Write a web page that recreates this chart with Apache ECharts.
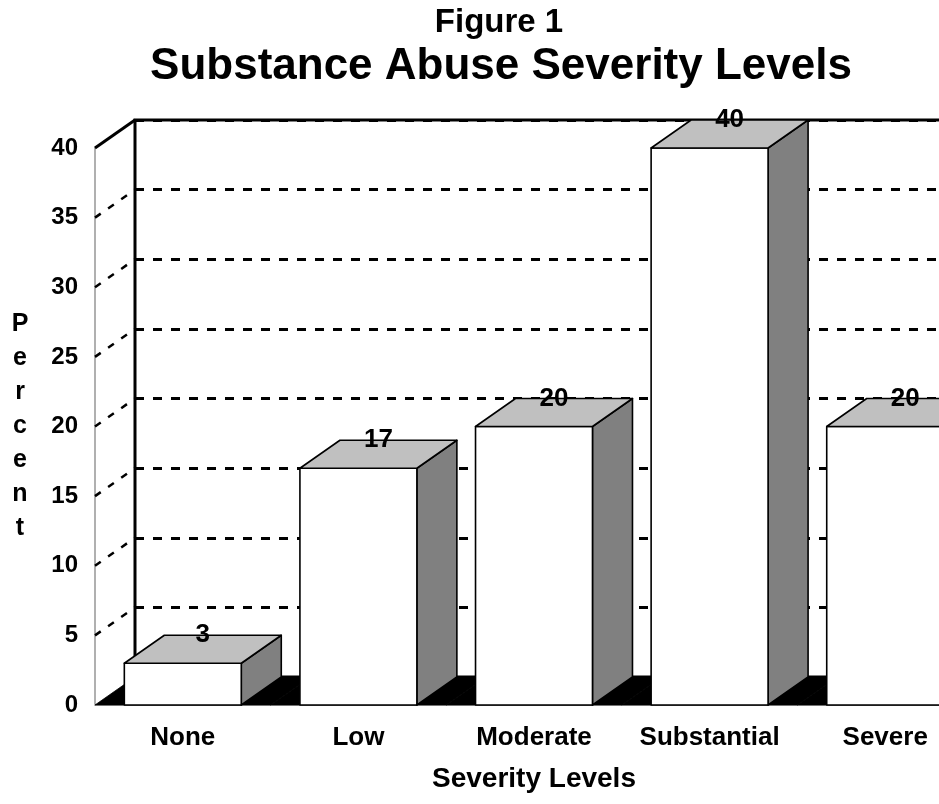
<!DOCTYPE html>
<html>
<head>
<meta charset="utf-8">
<script src="https://cdn.jsdelivr.net/npm/echarts@6/dist/echarts.min.js"></script>
<style>
html,body{margin:0;padding:0;background:#fff;}
#chart{width:939px;height:804px;}
</style>
</head>
<body>
<div id="chart"></div>
<script>
// ---- data ----
const categories = ['None', 'Low', 'Moderate', 'Substantial', 'Severe'];
const percents = [3, 17, 20, 40, 20];
const yTicks = [5, 10, 15, 20, 25, 30, 35, 40];
const yMin = 0, yMax = 40, yStep = 5;
const titleMain = 'Substance Abuse Severity Levels';
const titleTop = 'Figure 1';
const xTitle = 'Severity Levels';
const yTitle = 'Percent';

// ---- style ----
const FONT = '"Liberation Sans", Arial, Helvetica, sans-serif';
const DX = 40, DY = -28;          // 3D depth offset
const BAR_RATIO = 0.666;          // bar width relative to band

const chart = echarts.init(document.getElementById('chart'), null, {renderer: 'canvas'});

const floorSeries = {
  type: 'custom',
  xAxisIndex: 0, yAxisIndex: 0,
  z: 1,
  silent: true,
  data: categories.map((c, i) => [i, yMin]),
  renderItem: function (params, api) {
    const i = api.value(0);
    const base = api.coord([i, yMin]);
    const band = api.size([1, 0])[0];
    const x0 = base[0] - band / 2, x1 = base[0] + band / 2, yb = base[1];
    return {
      type: 'polygon',
      shape: {points: [[x0, yb], [x0 + DX, yb + DY], [x1 + DX, yb + DY], [x1, yb]]},
      style: {fill: '#000', stroke: '#000', lineWidth: 0.8}
    };
  }
};

const wallSeries = {
  type: 'custom',
  xAxisIndex: 0, yAxisIndex: 0,
  z: 1,
  silent: true,
  data: yTicks.map(v => [0, v]),
  renderItem: function (params, api) {
    const v = api.value(1);
    const y = api.coord([0, v])[1];
    const x = params.coordSys.x;
    const solid = v === yMax;
    return {
      type: 'line',
      shape: {x1: x, y1: y, x2: x + DX, y2: y + DY},
      style: {stroke: '#000', lineWidth: solid ? 3 : 2.5, lineDash: solid ? null : [7, 9]}
    };
  }
};

const barSeries = {
  type: 'custom',
  xAxisIndex: 0, yAxisIndex: 0,
  z: 5,
  silent: true,
  data: percents.map((v, i) => [i, v]),
  renderItem: function (params, api) {
    const i = api.value(0), v = api.value(1);
    const base = api.coord([i, yMin]);
    const top = api.coord([i, v]);
    const bw = api.size([1, 0])[0] * BAR_RATIO;
    const xl = base[0] - bw / 2, xr = base[0] + bw / 2;
    const yb = base[1], yt = top[1];
    const stroke = {stroke: '#000', lineWidth: 1.6, lineJoin: 'round'};
    return {
      type: 'group',
      children: [
        {type: 'polygon', shape: {points: [[xr, yt], [xr + DX, yt + DY], [xr + DX, yb + DY], [xr, yb]]},
         style: Object.assign({fill: '#808080'}, stroke)},
        {type: 'rect', shape: {x: xl, y: yt, width: bw, height: yb - yt},
         style: Object.assign({fill: '#fff'}, stroke)},
        {type: 'polygon', shape: {points: [[xl, yt], [xl + DX, yt + DY], [xr + DX, yt + DY], [xr, yt]]},
         style: Object.assign({fill: '#c0c0c0'}, stroke)},
        {type: 'text', z2: 100,
         style: {text: String(v), x: base[0] + DX / 2, y: yt + DY,
                 align: 'center', verticalAlign: 'middle',
                 font: 'bold 26px ' + FONT, fill: '#000'}}
      ]
    };
  }
};

const option = {
  animation: false,
  backgroundColor: '#fff',
  graphic: [
    {type: 'text', x: 499, y: 23, style: {text: titleTop, align: 'center', verticalAlign: 'middle',
      font: 'bold 33px ' + FONT, fill: '#000'}},
    {type: 'text', x: 501, y: 67, style: {text: titleMain, align: 'center', verticalAlign: 'middle',
      font: 'bold 44px ' + FONT, fill: '#000'}}
  ],
  grid: [
    {left: 95, top: 148, width: 878, height: 557, containLabel: false, outerBoundsMode: 'none'},
    {left: 135, top: 120, width: 878, height: 557, show: true, borderColor: '#000', borderWidth: 3,
     backgroundColor: 'rgba(0,0,0,0)', containLabel: false, outerBoundsMode: 'none'}
  ],
  xAxis: [
    {type: 'category', gridIndex: 0, data: categories,
     axisLine: {show: true, lineStyle: {color: '#c0c0c0', width: 2}},
     axisTick: {show: false},
     splitLine: {show: false},
     axisLabel: {interval: 0, hideOverlap: false, margin: 20, fontSize: 26, fontWeight: 'bold',
                 fontFamily: FONT, color: '#000'},
     name: xTitle, nameLocation: 'middle', nameGap: 60,
     nameTextStyle: {fontSize: 28, fontWeight: 'bold', fontFamily: FONT, color: '#000'}},
    {type: 'value', gridIndex: 1, show: false, min: 0, max: 1}
  ],
  yAxis: [
    {type: 'value', gridIndex: 0, min: yMin, max: yMax, interval: yStep,
     axisLine: {show: true, lineStyle: {color: '#b0b0b0', width: 2}},
     axisTick: {show: false},
     splitLine: {show: false},
     axisLabel: {margin: 17, fontSize: 24, fontWeight: 'bold', fontFamily: FONT, color: '#000'},
     name: yTitle.split('').join('\n'), nameLocation: 'middle', nameRotate: 0, nameGap: 75,
     nameTextStyle: {fontSize: 25, fontWeight: 'bold', fontFamily: FONT, color: '#000',
                     align: 'center', verticalAlign: 'middle', lineHeight: 34}},
    {type: 'value', gridIndex: 1, min: yMin, max: yMax, interval: yStep,
     axisLine: {show: false}, axisTick: {show: false}, axisLabel: {show: false},
     splitLine: {show: true, lineStyle: {color: '#000', width: 3, type: [9, 9]}}}
  ],
  series: [floorSeries, wallSeries, barSeries]
};

chart.setOption(option);
</script>
</body>
</html>
